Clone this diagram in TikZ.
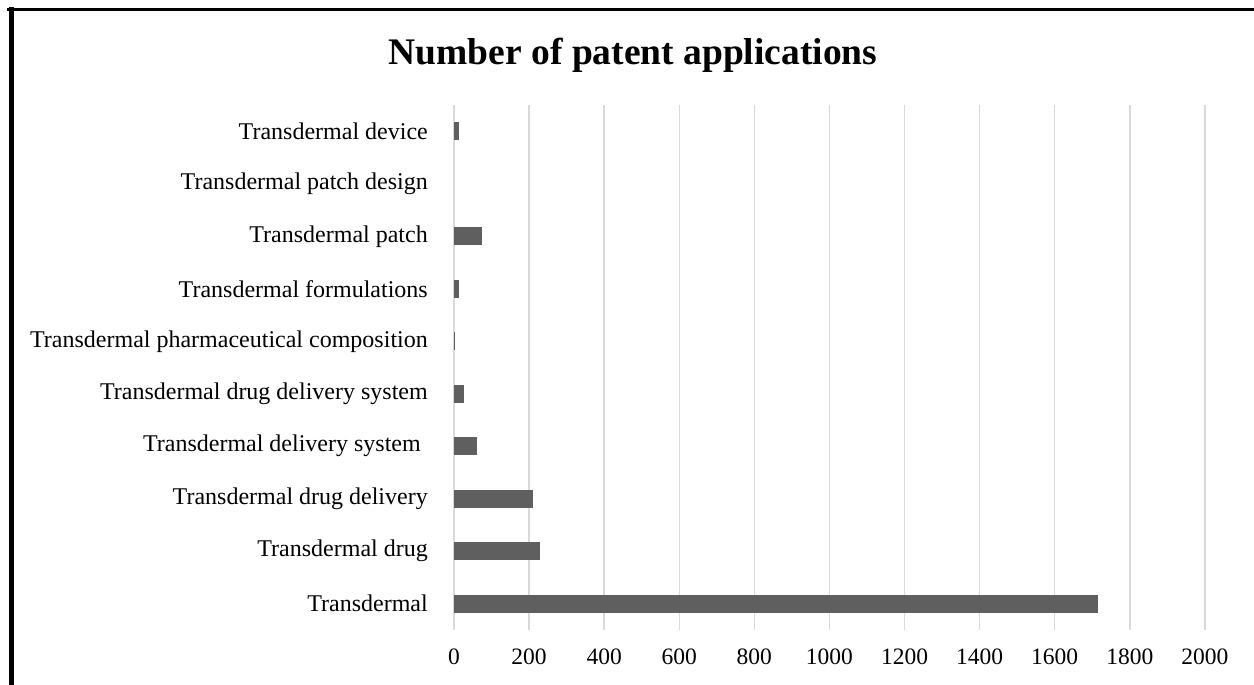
\documentclass[tikz,border=0pt]{standalone}
\usepackage{fontspec}
\setmainfont{Liberation Serif}
\definecolor{barfill}{HTML}{5F5F5F}
\definecolor{gridgray}{HTML}{D9D9D9}
\tikzset{
  frame/.style={line width=#1, black, line cap=rect},
  gridline/.style={draw=gridgray, line width=1.5pt},
  databar/.style={fill=barfill, draw=none},
  catlabel/.style={anchor=east, inner sep=0pt, font=\fontsize{24}{26}\selectfont},
  ticklabel/.style={anchor=center, inner sep=0pt, font=\fontsize{23.5}{26}\selectfont},
  charttitle/.style={anchor=center, inner sep=0pt, font=\fontsize{37.5}{40}\selectfont\bfseries}
}
\begin{document}
\begin{tikzpicture}[x=1pt,y=-1pt]
\useasboundingbox (0,0) rectangle (1254,685);
\fill[white] (0,0) rectangle (1254,685);
% outer frame: top and left edges
\draw[frame=3.5pt] (9,9.5) -- (1254,9.5);
\draw[frame=5pt] (11.5,9.5) -- (11.5,685);
% title
\node[charttitle] (title) at (633,55) {Number of patent applications};
% vertical grid lines and axis values (0 to 2000 step 200)
\foreach \v [count=\k from 0] in {0,200,...,2000} {
  \pgfmathsetmacro{\gx}{454+\v*0.37545}
  \draw[gridline] (\gx,105) -- (\gx,630);
  \node[ticklabel] (tick\k) at (\gx,657) {\v};
}
% bars: category index from the bottom, value
\foreach \i/\val/\txt in {
  0/1714/{Transdermal},
  1/229/{Transdermal drug},
  2/210/{Transdermal drug delivery},
  3/60/{Transdermal delivery system\hspace*{7pt}},
  4/27/{Transdermal drug delivery system},
  5/1.5/{Transdermal pharmaceutical composition},
  6/14/{Transdermal formulations},
  7/74/{Transdermal patch},
  8/0/{Transdermal patch design},
  9/14/{Transdermal device}} {
  \pgfmathsetmacro{\cy}{630-26.25-52.5*\i}
  \pgfmathsetmacro{\bx}{454+\val*0.37545}
  \node[catlabel] (cat\i) at (428,\cy) {\txt};
  \ifdim\val pt>0pt
    \fill[databar] (454,\cy-9) rectangle (\bx,\cy+9);
  \fi
}
\end{tikzpicture}
\end{document}
